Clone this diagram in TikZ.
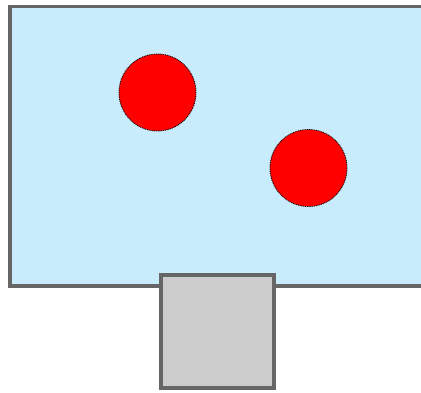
\documentclass[tikz,border=0pt]{standalone}
\definecolor{poolblue}{HTML}{C8ECFC}
\definecolor{wallgray}{HTML}{666666}
\definecolor{boxgray}{HTML}{CCCCCC}
\tikzset{pool/.style={fill=poolblue,draw=wallgray,line width=3.5pt}}
\tikzset{ball/.style={fill=red,draw=black,line width=0.9pt,dash pattern=on 0.9pt off 0.9pt}}
\tikzset{block/.style={fill=boxgray,draw=wallgray,line width=3.5pt}}

\begin{document}
\begin{tikzpicture}[x=1pt,y=-1pt]
  \useasboundingbox (0,0) rectangle (421,392);
  % water area
  \draw [pool] (10,6.5) rectangle (428,286);
  % two balls
  \draw [ball] (157.5,92.5) circle (38.5);
  \draw [ball] (308.5,168) circle (38.5);
  % box in front
  \draw [block] (161,275) rectangle (274,388);
\end{tikzpicture}
\end{document}
